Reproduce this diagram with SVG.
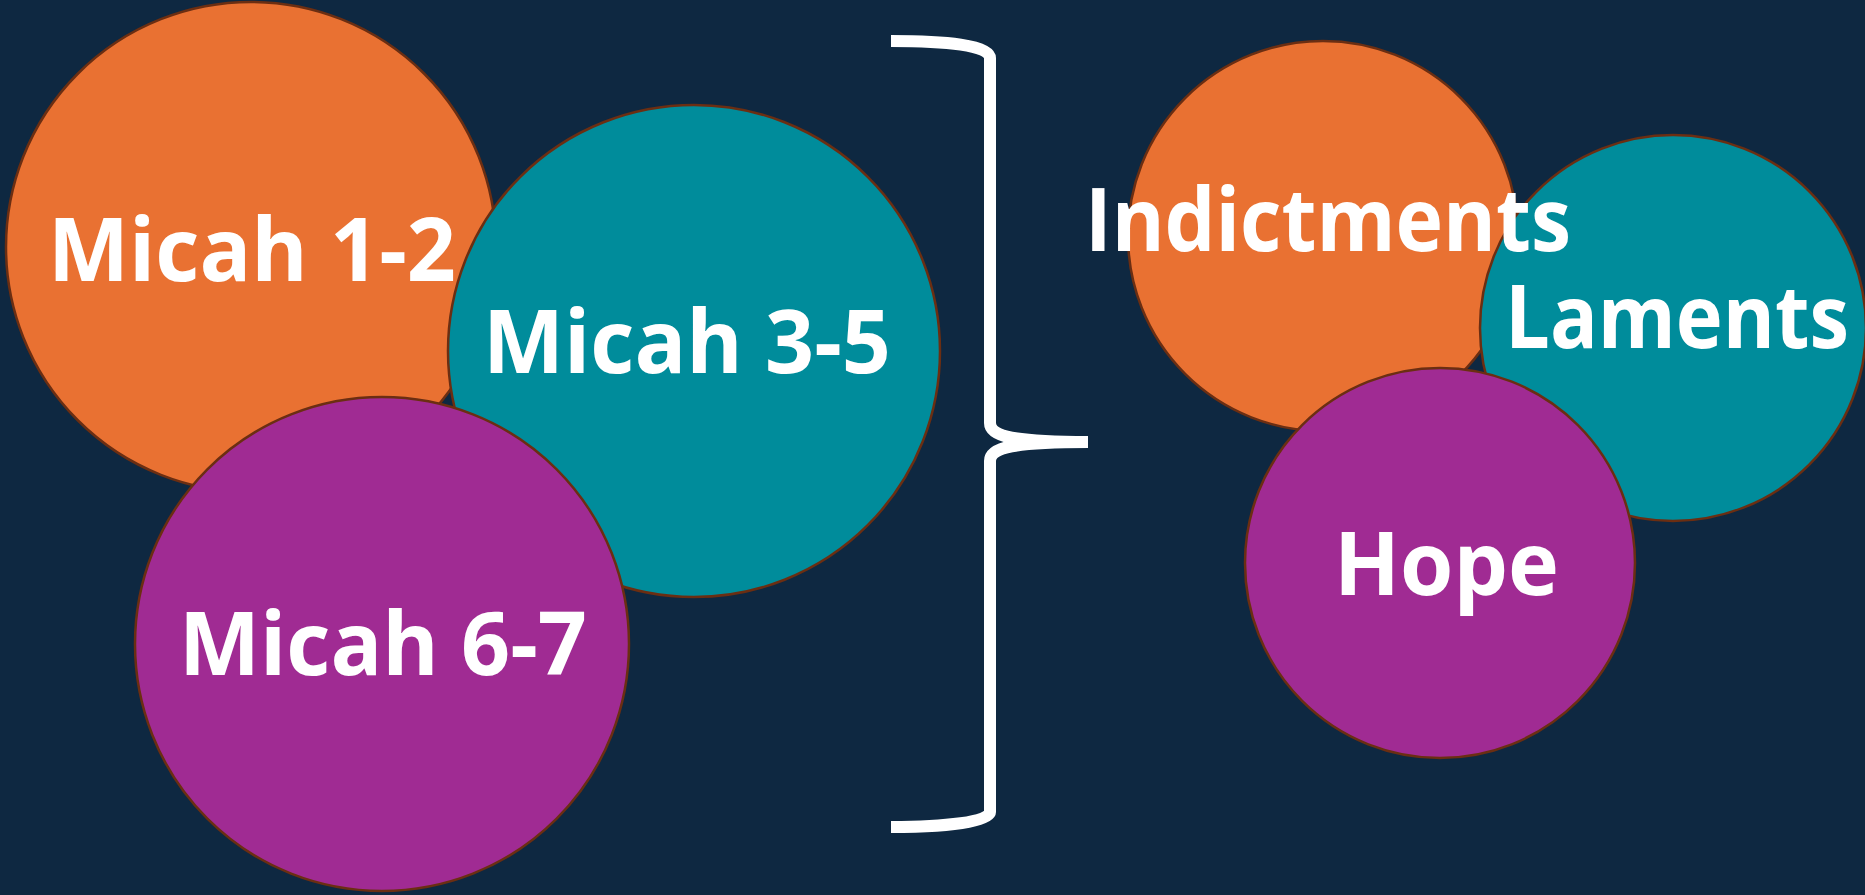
<svg xmlns="http://www.w3.org/2000/svg" width="1865" height="895" viewBox="0 0 1865 895">
<style>
.c{stroke:#6B2E12;stroke-width:2.5}
.o{fill:#E97132}
.t{fill:#008C9B}
.p{fill:#A02B93}
.l{font-family:"Open Sans",Lato,sans-serif;font-weight:700;font-size:87px;fill:#FFFFFF}
.b{fill:none;stroke:#FFFFFF;stroke-width:12;stroke-linecap:butt}
</style>
<rect width="1865" height="895" fill="#0E2841"/>
<g id="node-micah-1-2"><circle class="c o" cx="251" cy="247" r="245"/><text class="l" x="48" y="281" textLength="408" lengthAdjust="spacingAndGlyphs">Micah 1-2</text></g>
<g id="node-micah-3-5"><circle class="c t" cx="694" cy="351" r="246"/><text class="l" x="483" y="373" textLength="408" lengthAdjust="spacingAndGlyphs">Micah 3-5</text></g>
<g id="node-micah-6-7"><circle class="c p" cx="382" cy="644" r="247"/><text class="l" x="179" y="675" textLength="408" lengthAdjust="spacingAndGlyphs">Micah 6-7</text></g>
<g id="node-indictments"><circle class="c o" cx="1323" cy="236" r="195"/></g>
<g id="node-laments"><circle class="c t" cx="1673" cy="328" r="193"/><text class="l" x="1505" y="348" textLength="344" lengthAdjust="spacingAndGlyphs">Laments</text></g>
<g id="node-hope"><circle class="c p" cx="1440" cy="563" r="195"/><text class="l" x="1334" y="595" textLength="225" lengthAdjust="spacingAndGlyphs">Hope</text></g>
<g id="label-indictments"><text class="l" x="1085" y="251" textLength="486" lengthAdjust="spacingAndGlyphs">Indictments</text></g>
<g id="connectors">
<path class="b" d="M891,41 C945,41 990,45 990,58 L990,423 C990,437 1015,442 1088,442"/>
<path class="b" d="M1088,442 C1015,442 990,447 990,461 L990,812 C990,822 945,827 891,827"/>
</g>
</svg>
